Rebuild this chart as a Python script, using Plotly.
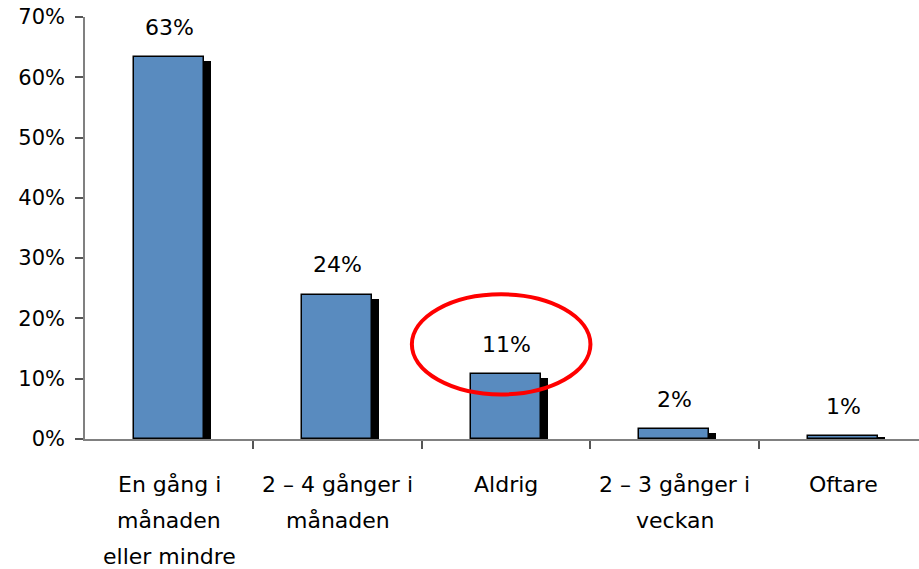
import plotly.graph_objects as go

categories = ["En gång i\nmånaden\neller mindre", "2 – 4 gånger i\nmånaden", "Aldrig",
              "2 – 3 gånger i\nveckan", "Oftare"]
values = [63.3, 23.9, 10.7, 1.6, 0.45]
value_labels = ["63%", "24%", "11%", "2%", "1%"]
y_ticks = [0, 10, 20, 30, 40, 50, 60, 70]
y_tick_labels = ["0%", "10%", "20%", "30%", "40%", "50%", "60%", "70%"]

FONT = "DejaVu Sans"
BAR_W = 0.415
SHADOW_DX = 0.04
SHADOW_DY = 0.66

xs = list(range(len(categories)))
shadow_vals = [max(v - SHADOW_DY, 0.35) for v in values]

fig = go.Figure()
fig.add_trace(go.Bar(x=xs, y=shadow_vals, width=BAR_W, offset=-BAR_W / 2 + SHADOW_DX,
                     marker=dict(color="black", line=dict(width=0)),
                     hoverinfo="skip", showlegend=False))
fig.add_trace(go.Bar(x=xs, y=values, width=BAR_W, offset=-BAR_W / 2 - 0.003,
                     marker=dict(color="#598BBF", line=dict(color="black", width=1.5)),
                     showlegend=False))

annotations = []
for x, v, lab in zip(xs, values, value_labels):
    annotations.append(dict(x=x, y=v, xref="x", yref="y", text=lab, showarrow=False,
                            yanchor="middle", yshift=30,
                            font=dict(family=FONT, size=22, color="black")))
for x, cat in zip(xs, categories):
    for i, line in enumerate(cat.split("\n")):
        annotations.append(dict(x=x, y=0, xref="x", yref="y", text=line, showarrow=False,
                                yanchor="middle", yshift=-45 - 36 * i,
                                font=dict(family=FONT, size=22, color="black")))

fig.update_layout(
    width=919, height=569,
    margin=dict(l=85, r=0, t=17, b=130, autoexpand=False),
    paper_bgcolor="white", plot_bgcolor="white",
    barmode="overlay",
    bargap=0,
    annotations=annotations,
    shapes=[dict(type="circle", xref="x", yref="y", x0=1.44, x1=2.50, y0=7.4, y1=24.0,
                 line=dict(color="#FF0000", width=4), layer="above")],
    xaxis=dict(range=[-0.5, 4.45], tickmode="array", tickvals=[0.5, 1.5, 2.5, 3.5],
               showticklabels=False, ticks="outside", ticklen=8, tickwidth=1.5,
               tickcolor="#555555", showline=True, linecolor="#808080", linewidth=1.5,
               showgrid=False, zeroline=False),
    yaxis=dict(range=[0, 70], tickmode="array", tickvals=y_ticks, ticktext=y_tick_labels,
               ticks="outside", ticklen=8, tickwidth=1.5, tickcolor="#555555",
               showline=True, linecolor="#808080", linewidth=1.5, showgrid=False,
               zeroline=False, ticklabelstandoff=6,
               tickfont=dict(family=FONT, size=21, color="black")),
)

fig.write_html("out.html", config={"displayModeBar": False},
               post_script="document.body.style.margin='0';")
